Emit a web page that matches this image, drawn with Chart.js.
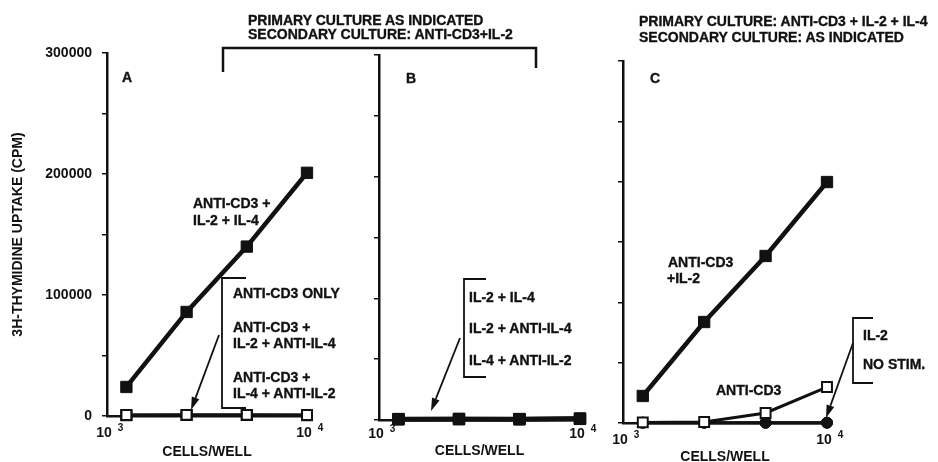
<!DOCTYPE html>
<html><head><meta charset="utf-8">
<script src="https://cdn.jsdelivr.net/npm/chart.js@4.4.1/dist/chart.umd.min.js"></script>
<style>
html,body{margin:0;padding:0;background:#fff;}
#wrap{position:relative;width:938px;height:462px;overflow:hidden;font-family:"Liberation Sans",Arial,sans-serif;font-weight:bold;color:#111;}
canvas{position:absolute;left:0;top:0;}
svg{position:absolute;left:0;top:0;}
.t{position:absolute;font-size:14px;line-height:16px;white-space:nowrap;-webkit-text-stroke:0.35px #111;}
</style></head><body>
<div id="wrap">
<canvas id="cA" width="938" height="462"></canvas>
<canvas id="cB" width="938" height="462"></canvas>
<canvas id="cC" width="938" height="462"></canvas>
<svg id="ov" width="938" height="462"></svg>
</div>
<script>
// ---- data ----
const cellsPerWell = [1250, 2500, 5000, 10000];
const xTickValues = [1000, 10000];
const xTickExponents = ['3', '4'];
const yTickValues = [0, 50000, 100000, 150000, 200000, 250000, 300000];
const yTickLabels = [0, 100000, 200000, 300000];

// Panel A: primary culture as indicated, secondary anti-CD3 + IL-2
const aAntiCD3IL2IL4 = [24000, 86000, 140000, 201000];
const aAntiCD3Only = [800, 900, 900, 800];
const aAntiCD3IL2AntiIL4 = [700, 800, 800, 700];
const aAntiCD3IL4AntiIL2 = [600, 700, 700, 600];
// Panel B
const bIL2IL4 = [800, 900, 800, 1200];
const bIL2AntiIL4 = [700, 800, 700, 1000];
const bIL4AntiIL2 = [600, 700, 600, 900];
// Panel C: primary anti-CD3 + IL-2 + IL-4, secondary as indicated
const cAntiCD3IL2 = [22400, 83700, 138400, 199700];
const cAntiCD3 = [500, 800, 8300, 29800];
const cIL2 = [300, 300, 300, 300];
const cNoStim = [200, 200, 200, 200];

const BLACK = '#111';
const FAM = '"Liberation Sans", Arial, sans-serif';

function xy(vals){ return cellsPerWell.map((c,i)=>({x:c, y:vals[i]})); }

function filledSq(label, vals){
  return {label, data:xy(vals), borderColor:BLACK, backgroundColor:BLACK, borderWidth:4.5,
    pointStyle:'rect', pointRadius:8, pointBackgroundColor:BLACK, pointBorderColor:BLACK,
    pointBorderWidth:1, tension:0, clip:false};
}
function openSq(label, vals){
  return {label, data:xy(vals), borderColor:BLACK, backgroundColor:'#fff', borderWidth:3,
    pointStyle:'rect', pointRadius:7, pointBackgroundColor:'#fff', pointBorderColor:BLACK,
    pointBorderWidth:2, tension:0, clip:false};
}
function filledCirc(label, vals){
  return {label, data:xy(vals), borderColor:BLACK, backgroundColor:BLACK, borderWidth:3,
    pointStyle:'circle', pointRadius:5.5, pointBackgroundColor:BLACK, pointBorderColor:BLACK,
    pointBorderWidth:1, tension:0, clip:false};
}

const expPlugin = {
  id:'exponents',
  afterDraw(chart){
    const s = chart.scales.x, ctx = chart.ctx;
    const pad = chart.options.scales.x.ticks.padding;
    const off = chart.options.scales.x.ticks.labelOffset;
    ctx.save();
    ctx.font = 'bold 14px ' + FAM;
    const w = ctx.measureText('10').width;
    ctx.font = 'bold 10px ' + FAM;
    ctx.fillStyle = BLACK; ctx.textAlign = 'left'; ctx.textBaseline = 'middle';
    xTickValues.forEach((v,i)=>{
      const px = s.getPixelForValue(v) + off + w/2 + 6;
      const cy = s.top + pad + 8.4 - 5;
      ctx.fillText(xTickExponents[i], px, cy);
    });
    ctx.restore();
  }
};

function makeChart(id, p, datasets){
  return new Chart(document.getElementById(id), {
    type:'line',
    data:{datasets},
    plugins:[expPlugin],
    options:{
      responsive:false, animation:false, events:[],
      layout:{padding:{left:p.padLeft, right:938 - p.right, top:p.top, bottom:0}},
      plugins:{legend:{display:false}, tooltip:{enabled:false}},
      scales:{
        x:{type:'logarithmic', min:1000, max:10000,
          afterBuildTicks:s=>{ s.ticks = xTickValues.map(v=>({value:v})); },
          afterFit:s=>{ s.height = 462 - p.bottom; },
          grid:{display:false, drawTicks:false},
          border:{display:true, color:BLACK, width:2.5},
          ticks:{autoSkip:false, maxRotation:0, minRotation:0,
            callback:v=> xTickValues.includes(v) ? '10' : '',
            font:{family:FAM, weight:'bold', size:14}, color:BLACK, padding:p.xPad, labelOffset:-3},
          title:{display:true, text:'CELLS/WELL', color:BLACK, align:p.titleAlign || 'center',
            font:{family:FAM, weight:'bold', size:14}, padding:{top:0, bottom:p.titlePad}}
        },
        y:{min:0, max:300000,
          afterBuildTicks:s=>{ s.ticks = yTickValues.map(v=>({value:v})); },
          afterFit:s=>{ s.width = p.yWidth; },
          grid:{drawOnChartArea:false, drawTicks:true, tickLength:5, color:BLACK, lineWidth:1.5},
          border:{display:true, color:BLACK, width:2.5},
          ticks:{callback:v=> (p.showY && yTickLabels.includes(v)) ? String(v) : '',
            font:{family:FAM, weight:'bold', size:14}, color:BLACK, padding:10},
          title:{display:p.showY, text:'3H-THYMIDINE UPTAKE (CPM)', color:BLACK,
            font:{family:FAM, weight:'bold', size:14}, padding:{top:10, bottom:0}}
        }
      }
    }
  });
}

makeChart('cA', {padLeft:0, yWidth:107, right:307, top:53, bottom:416, xPad:9, titlePad:1.6, showY:true}, [
  filledSq('ANTI-CD3 + IL-2 + IL-4', aAntiCD3IL2IL4),
  openSq('ANTI-CD3 ONLY', aAntiCD3Only),
  openSq('ANTI-CD3 + IL-2 + ANTI-IL-4', aAntiCD3IL2AntiIL4),
  openSq('ANTI-CD3 + IL-4 + ANTI-IL-2', aAntiCD3IL4AntiIL2)
]);
makeChart('cB', {padLeft:359, yWidth:20, right:580, top:55, bottom:420, xPad:6, titlePad:2.6, showY:false}, [
  filledSq('IL-2 + IL-4', bIL2IL4),
  filledSq('IL-2 + ANTI-IL-4', bIL2AntiIL4),
  filledSq('IL-4 + ANTI-IL-2', bIL4AntiIL2)
]);
makeChart('cC', {padLeft:603, yWidth:20, right:827, top:61, bottom:423, xPad:9, titlePad:-3.4, showY:false}, [
  openSq('ANTI-CD3', cAntiCD3),
  filledSq('ANTI-CD3 +IL-2', cAntiCD3IL2),
  filledCirc('IL-2', cIL2),
  filledCirc('NO STIM.', cNoStim)
]);

// ---- text annotations ----
const labels = [
  ['PRIMARY CULTURE AS INDICATED', 248, 20],
  ['SECONDARY CULTURE: ANTI-CD3+IL-2', 248, 34],
  ['PRIMARY CULTURE: ANTI-CD3 + IL-2 + IL-4', 639, 21],
  ['SECONDARY CULTURE: AS INDICATED', 639, 37],
  ['A', 122, 77], ['B', 406, 78], ['C', 650, 78],
  ['ANTI-CD3 +', 193, 203], ['IL-2 + IL-4', 193, 220],
  ['ANTI-CD3 ONLY', 233, 293],
  ['ANTI-CD3 +', 233, 327], ['IL-2 + ANTI-IL-4', 233, 343],
  ['ANTI-CD3 +', 233, 377], ['IL-4 + ANTI-IL-2', 233, 393],
  ['IL-2 + IL-4', 469, 297], ['IL-2 + ANTI-IL-4', 469, 328], ['IL-4 + ANTI-IL-2', 469, 360],
  ['ANTI-CD3', 668, 262], ['+IL-2', 667, 278],
  ['ANTI-CD3', 716, 390],
  ['IL-2', 863, 335], ['NO STIM.', 863, 364]
];
const wrap = document.getElementById('wrap');
labels.forEach(([t,x,cy])=>{
  const d = document.createElement('div'); d.className='t'; d.textContent=t;
  d.style.left = x+'px'; d.style.top = (cy-8)+'px'; wrap.appendChild(d);
});

// ---- brackets and arrows ----
const svg = document.getElementById('ov');
const NS = 'http://www.w3.org/2000/svg';
function poly(pts, w){
  const e = document.createElementNS(NS,'polyline');
  e.setAttribute('points', pts); e.setAttribute('fill','none');
  e.setAttribute('stroke', BLACK); e.setAttribute('stroke-width', w);
  svg.appendChild(e);
}
function arrow(x1,y1,x2,y2){
  const dx=x2-x1, dy=y2-y1, L=Math.hypot(dx,dy), ux=dx/L, uy=dy/L;
  const hl=13, hw=4, bx=x2-ux*hl, by=y2-uy*hl;
  poly(`${x1},${y1} ${bx},${by}`, 1.8);
  const e = document.createElementNS(NS,'polygon');
  e.setAttribute('points', `${x2},${y2} ${bx-uy*hw},${by+ux*hw} ${bx+uy*hw},${by-ux*hw}`);
  e.setAttribute('fill', BLACK); svg.appendChild(e);
}
poly('223,72 223,48 536,48 536,68', 2.5);
poly('246,278 222,278 222,408 246,408', 1.8);
poly('486,279 464,279 464,377 486,377', 1.8);
poly('873,318 853,318 853,383 873,383', 1.8);
arrow(219,335,191,410);
arrow(460,338,431,411);
arrow(853,343,826,418);
</script>
</body></html>
